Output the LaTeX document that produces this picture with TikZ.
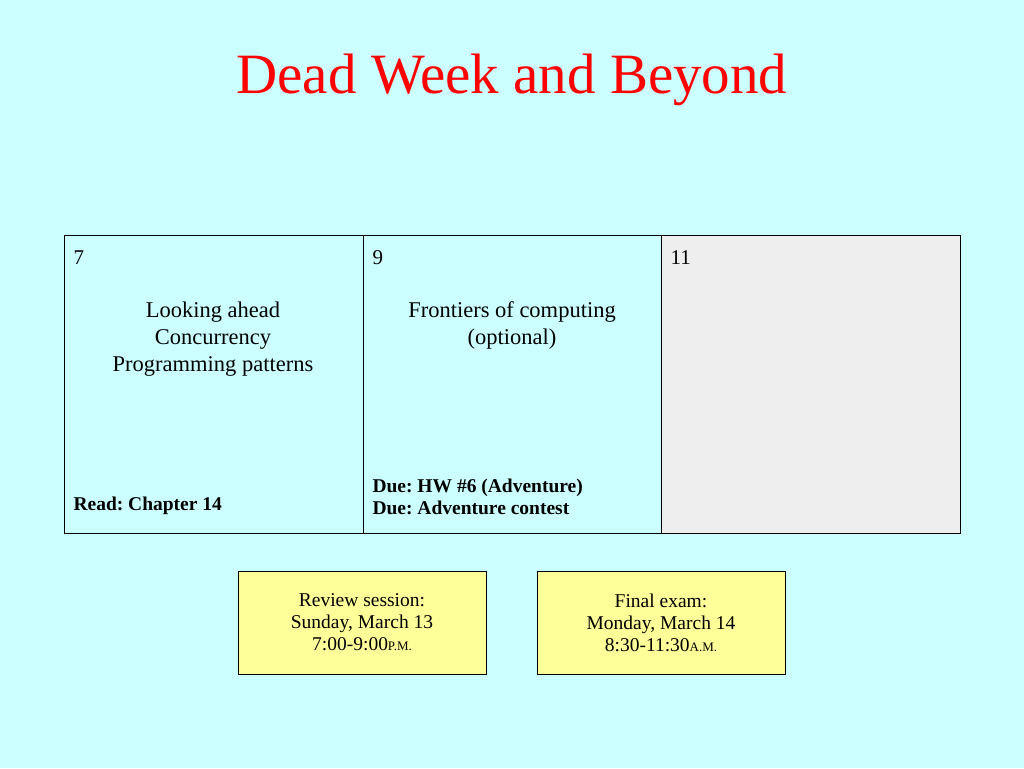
\documentclass[tikz,border=0pt]{standalone}
\usepackage{fontspec}
\setmainfont{Liberation Serif}
\frenchspacing
\definecolor{bgc}{RGB}{204,255,255}
\definecolor{notec}{RGB}{255,255,153}
\definecolor{cellg}{RGB}{238,238,238}
\begin{document}
\begin{tikzpicture}[x=1pt,y=-1pt,
  cell/.style={draw=black,line width=0.8pt},
  body/.style={font=\fontsize{22.5}{27}\selectfont,align=center},
  num/.style={font=\fontsize{21}{24}\selectfont,anchor=west},
  due/.style={font=\bfseries\fontsize{19.5}{22}\selectfont,anchor=south west,align=left},
  note/.style={draw=black,line width=0.6pt,fill=notec,minimum width=248pt,minimum height=103pt,font=\fontsize{19.5}{22}\selectfont,align=center}]
\fill[bgc] (0,0) rectangle (1024,768);
\useasboundingbox (0,0) rectangle (1024,768);
\node[text=red,font=\fontsize{57}{64}\selectfont] (title) at (512,80) {Dead Week and Beyond};
\fill[cellg] (661,235) rectangle (960,533);
\draw[cell] (64,235) rectangle (960,533);
\draw[cell] (363,235) -- (363,533);
\draw[cell] (661,235) -- (661,533);
\node[num] (n7) at (70,258) {7};
\node[num] (n9) at (369,258) {9};
\node[num] (n11) at (667,258) {11};
\node[body,anchor=north] (b1) at (213,298) {Looking ahead\\Concurrency\\Programming patterns};
\node[body,anchor=north] (b2) at (512,298) {Frontiers of computing\\(optional)};
\node[due] (d1) at (70,518) {Read: Chapter 14};
\node[due] (d2) at (369,518) {Due: HW \#6 (Adventure)\\Due: Adventure contest};
\node[note] (r) at (362,622.5) {Review session:\\Sunday, March 13\\7:00-9:00{\fontsize{13}{14}\selectfont P.M.}};
\node[note] (f) at (661,622.5) {Final exam:\\Monday, March 14\\8:30-11:30{\fontsize{13}{14}\selectfont A.M.}};
\end{tikzpicture}
\end{document}
